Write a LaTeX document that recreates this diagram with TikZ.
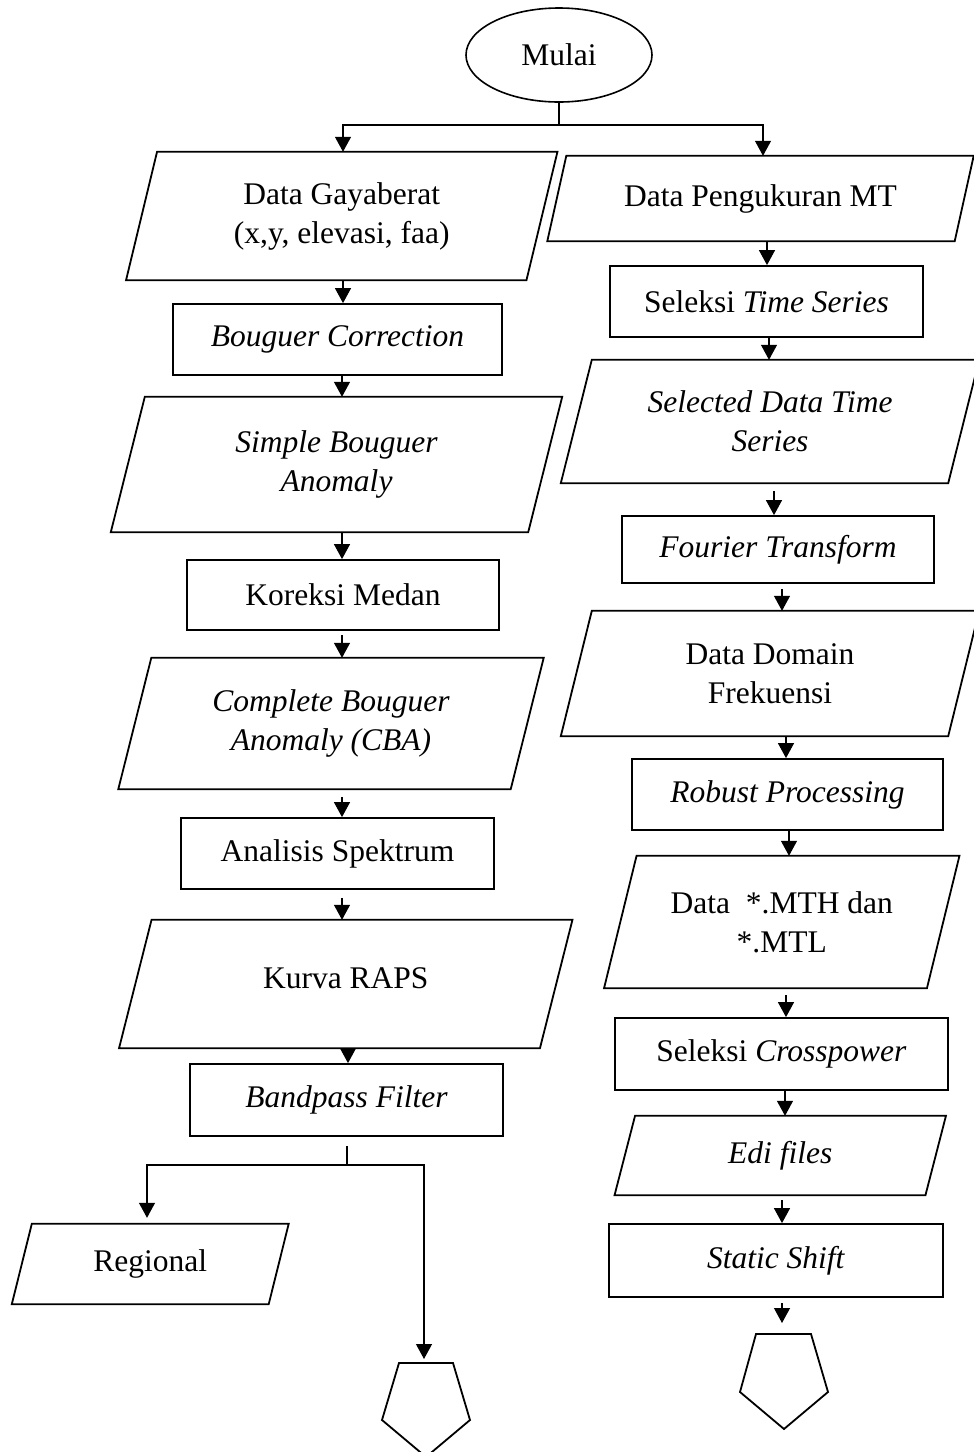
\documentclass[tikz,border=0pt]{standalone}
\usepackage{fontspec}
\setmainfont{Liberation Serif}
\usetikzlibrary{arrows.meta,shapes.geometric}
\newcommand{\mainfnt}{\fontsize{31.5}{39}\selectfont}
\tikzset{
  boxline/.style={line width=1.8pt, line join=miter},
  procbox/.style={draw, boxline, inner sep=0pt, align=center, font=\mainfnt},
  paratext/.style={inner sep=0pt, align=center, font=\mainfnt},
  conn/.style={line width=1.2pt},
  arr/.style={conn, -{Triangle[width=16pt,length=15pt]}},
}
% name, cx, cy, w, h, halfskew, text
\newcommand{\parabox}[7]{%
  \node[paratext, minimum width=#4pt, minimum height=#5pt] (#1) at (#2,#3) {#7};
  \draw[boxline] ([xshift=#6pt]#1.north west) -- ([xshift=#6pt]#1.north east)
    -- ([xshift=-#6pt]#1.south east) -- ([xshift=-#6pt]#1.south west) -- cycle;
}
\begin{document}
\begin{tikzpicture}[x=1pt,y=-1pt]
\useasboundingbox (0,0) rectangle (974,1452);
\clip (0,0) rectangle (974,1452);

% start
\node[draw, ellipse, line width=1.6pt, minimum width=186pt, minimum height=94pt, inner sep=0pt, font=\mainfnt] (start) at (559,55) {Mulai};

% left column
\parabox{gay}{341.75}{216}{400}{128}{15.5}{Data Gayaberat\\(x,y, elevasi, faa)}
\node[procbox, minimum width=329pt, minimum height=71pt] (boug) at (337.5,339.5) {\textit{Bouguer Correction}};
\parabox{sba}{336.5}{464.5}{417}{135}{17}{\textit{Simple Bouguer}\\\textit{Anomaly}}
\node[procbox, minimum width=312pt, minimum height=70pt] (km) at (343,595) {Koreksi Medan};
\parabox{cba}{331}{723.5}{392}{131}{16.5}{\textit{Complete Bouguer}\\\textit{Anomaly (CBA)}}
\node[procbox, minimum width=313pt, minimum height=71pt] (as) at (337.5,853.5) {Analisis Spektrum};
\parabox{kr}{345.75}{984}{420.5}{128}{16.25}{\raisebox{11pt}{Kurva RAPS}}
\node[procbox, minimum width=313pt, minimum height=72pt] (bf) at (346.5,1100) {\textit{Bandpass Filter}};
\parabox{reg}{150.25}{1264}{256.5}{80}{10}{Regional}
\coordinate (pentL) at (426,1363);
\draw[boxline] (399,1363) -- (453,1363) -- (470,1420) -- (426,1457) -- (382,1420) -- cycle;

% right column
\parabox{peng}{760.5}{198.5}{407}{85}{9.5}{Data Pengukuran MT}
\node[procbox, minimum width=313pt, minimum height=71pt] (sts) at (766.5,301.5) {Seleksi \textit{Time Series}};
\parabox{sel}{770}{421.5}{387}{123}{15.5}{\textit{Selected Data Time}\\\textit{Series}}
\node[procbox, minimum width=312pt, minimum height=67pt] (ft) at (778,549.5) {\textit{Fourier Transform}};
\parabox{ddf}{770}{673.5}{387}{125}{15.5}{Data Domain\\Frekuensi}
\node[procbox, minimum width=311pt, minimum height=71pt] (rob) at (787.5,794.5) {\textit{Robust Processing}};
\parabox{mth}{781.75}{922}{322.5}{132}{16.25}{Data\ \ *.MTH dan\\*.MTL}
\node[procbox, minimum width=333pt, minimum height=72pt] (cp) at (781.5,1054) {Seleksi \textit{Crosspower}};
\parabox{edi}{780.25}{1155.5}{310.5}{79}{10.25}{\textit{Edi files}}
\node[procbox, minimum width=334pt, minimum height=73pt] (ss) at (776,1260.5) {\textit{Static Shift}};
\coordinate (pentR) at (784,1334);
\draw[boxline] (756,1334) -- (811,1334) -- (828,1392) -- (784,1429) -- (740,1392) -- cycle;

% connectors: start fork
\coordinate (fork1) at (559,125);
\draw[conn] (start.south) -- (fork1);
\draw[arr] (fork1) -| ([xshift=1.25pt]gay.north);
\draw[arr] (fork1) -| ([xshift=2.5pt]peng.north);

% left connectors
\draw[arr] ([xshift=1.25pt]gay.south) -- ([xshift=5.5pt]boug.north);
\draw[arr] ([xshift=4.5pt]boug.south) -- ([xshift=5.5pt]sba.north);
\draw[arr] ([xshift=5.5pt]sba.south) -- ([xshift=-1pt]km.north);
\draw[arr] ([xshift=-1pt,yshift=-4pt]km.south) -- ([xshift=11pt]cba.north);
\draw[arr] ([xshift=11pt,yshift=-8pt]cba.south) -- ([xshift=4.5pt]as.north);
\draw[arr] ([xshift=4.5pt,yshift=-8pt]as.south) -- ([xshift=-3.75pt]kr.north);
\draw[arr] ([xshift=2.25pt]kr.south) -- ([xshift=1.5pt]bf.north);
\coordinate (fork2) at (347,1165);
\draw[conn] ([xshift=0.5pt,yshift=-9pt]bf.south) -- (fork2);
\draw[arr] (fork2) -| ([xshift=-3.25pt,yshift=6pt]reg.north);
\draw[arr] (fork2) -| ([xshift=-2pt,yshift=4pt]pentL);

% right connectors
\draw[arr] ([xshift=6.5pt]peng.south) -- ([xshift=0.5pt]sts.north);
\draw[arr] ([xshift=2.5pt]sts.south) -- ([xshift=-1pt]sel.north);
\draw[arr] ([xshift=4pt,yshift=-8pt]sel.south) -- ([xshift=-4pt]ft.north);
\draw[arr] ([xshift=4pt,yshift=-5pt]ft.south) -- ([xshift=12pt]ddf.north);
\draw[arr] ([xshift=16pt]ddf.south) -- ([xshift=-1.5pt]rob.north);
\draw[arr] ([xshift=1.5pt]rob.south) -- ([xshift=7.25pt]mth.north);
\draw[arr] ([xshift=4.25pt,yshift=-7pt]mth.south) -- ([xshift=4.5pt]cp.north);
\draw[arr] ([xshift=3.5pt]cp.south) -- ([xshift=4.75pt]edi.north);
\draw[arr] ([xshift=1.75pt,yshift=-5pt]edi.south) -- ([xshift=6pt]ss.north);
\draw[arr] ([xshift=6pt,yshift=-5pt]ss.south) -- ([xshift=-2pt,yshift=11pt]pentR);
\end{tikzpicture}
\end{document}
